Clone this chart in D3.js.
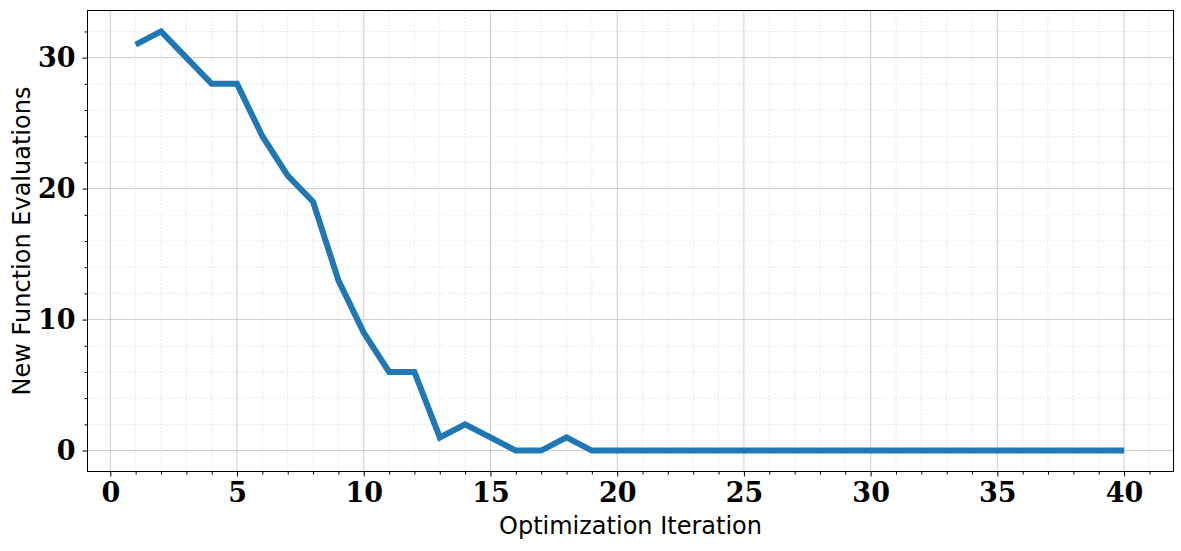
<!DOCTYPE html>
<html>
<head>
<meta charset="utf-8">
<script src="https://cdn.jsdelivr.net/npm/d3@7"></script>
<style>
  body { margin: 0; background: #fff; }
  svg { display: block; }
  .tick text { font-family: "DejaVu Serif", "Liberation Serif", serif; font-weight: bold; font-size: 27px; fill: #000; }
  .lbl { font-family: "DejaVu Sans", sans-serif; font-size: 24px; fill: #000; }
</style>
</head>
<body>
<div id="wrap"></div>
<script>
// iteration number and new function evaluations per iteration
var iterations = d3.range(1, 41);
var evaluations = [31, 32, 30, 28, 28, 24, 21, 19, 13, 9,
                   6, 6, 1, 2, 1, 0, 0, 1, 0, 0,
                   0, 0, 0, 0, 0, 0, 0, 0, 0, 0,
                   0, 0, 0, 0, 0, 0, 0, 0, 0, 0];
var xTicks = [0, 5, 10, 15, 20, 25, 30, 35, 40];
var yTicks = [0, 10, 20, 30];

var w = 1181;
var h = 551;
var pLeft = 87.5, pRight = 1173.5, pTop = 10.5, pBottom = 471.5;

var svg = d3.select("#wrap").append("svg").attr("width", w).attr("height", h);

var x = d3.scaleLinear().domain([-0.9, 41.95]).range([pLeft, pRight]);
var y = d3.scaleLinear().domain([-1.6, 33.6]).range([pBottom, pTop]);

var xMinor = d3.range(0, 42).filter(function(d){ return d % 5 != 0; });
var yMinor = d3.range(0, 34, 2).filter(function(d){ return d % 10 != 0; });

// minor grid
svg.append("g").selectAll("line").data(xMinor).enter().append("line")
  .attr("x1", function(d){ return x(d); }).attr("x2", function(d){ return x(d); })
  .attr("y1", pTop).attr("y2", pBottom)
  .attr("stroke", "#dcdcdc").attr("stroke-width", 0.8).attr("stroke-dasharray", "1.5,2");
svg.append("g").selectAll("line").data(yMinor).enter().append("line")
  .attr("y1", function(d){ return y(d); }).attr("y2", function(d){ return y(d); })
  .attr("x1", pLeft).attr("x2", pRight)
  .attr("stroke", "#dcdcdc").attr("stroke-width", 0.8).attr("stroke-dasharray", "1.5,2");

// major grid
svg.append("g").selectAll("line").data(xTicks).enter().append("line")
  .attr("x1", function(d){ return x(d); }).attr("x2", function(d){ return x(d); })
  .attr("y1", pTop).attr("y2", pBottom)
  .attr("stroke", "#c0c0c0").attr("stroke-width", 0.8);
svg.append("g").selectAll("line").data(yTicks).enter().append("line")
  .attr("y1", function(d){ return y(d); }).attr("y2", function(d){ return y(d); })
  .attr("x1", pLeft).attr("x2", pRight)
  .attr("stroke", "#c0c0c0").attr("stroke-width", 0.8);

// line
var line = d3.line()
  .x(function(d, i){ return x(iterations[i]); })
  .y(function(d){ return y(d); });
svg.append("path").datum(evaluations)
  .attr("d", line)
  .attr("fill", "none")
  .attr("stroke", "#1f77b4")
  .attr("stroke-width", 6)
  .attr("stroke-linejoin", "miter");

// frame
svg.append("rect").attr("x", pLeft).attr("y", pTop)
  .attr("width", pRight - pLeft).attr("height", pBottom - pTop)
  .attr("fill", "none").attr("stroke", "#000").attr("stroke-width", 1);

// axes
svg.append("g").attr("transform", "translate(0," + pBottom + ")")
  .call(d3.axisBottom(x).tickValues(xTicks).tickSize(5).tickPadding(6).tickFormat(d3.format("d")));
svg.append("g").attr("transform", "translate(0," + pBottom + ")")
  .call(d3.axisBottom(x).tickValues(xMinor).tickSize(3).tickFormat(""));
svg.append("g").attr("transform", "translate(" + pLeft + ",0)")
  .call(d3.axisLeft(y).tickValues(yTicks).tickSize(5).tickPadding(7).tickFormat(d3.format("d")));
svg.append("g").attr("transform", "translate(" + pLeft + ",0)")
  .call(d3.axisLeft(y).tickValues(yMinor).tickSize(3).tickFormat(""));
svg.selectAll(".domain").remove();
svg.selectAll(".tick line").attr("stroke", "#000").attr("stroke-width", 1);

svg.append("text").attr("class", "lbl")
  .attr("x", (pLeft + pRight) / 2).attr("y", 534)
  .attr("text-anchor", "middle").text("Optimization Iteration");
svg.append("text").attr("class", "lbl")
  .attr("transform", "translate(30," + ((pTop + pBottom) / 2) + ") rotate(-90)")
  .attr("text-anchor", "middle").text("New Function Evaluations");
</script>
</body>
</html>
